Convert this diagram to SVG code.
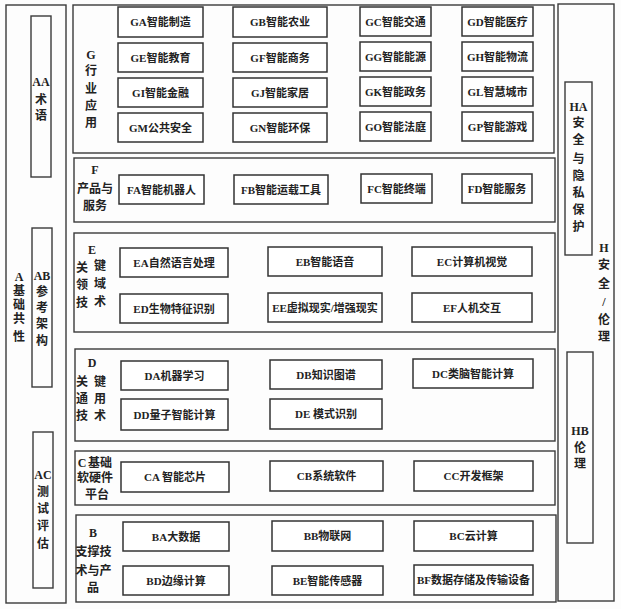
<svg xmlns="http://www.w3.org/2000/svg" width="621" height="609" viewBox="0 0 621 609">
<style>
.bg{fill:#fdfdfd}
.col{fill:none;stroke:#3a3a3a;stroke-width:1.4}
.sec{fill:none;stroke:#3a3a3a;stroke-width:1.4}
.box{fill:#fff;stroke:#333;stroke-width:1.5}
.t{font-family:"Liberation Serif","Noto Sans CJK SC",serif;font-size:11px;font-weight:bold;fill:#222;text-anchor:middle;dominant-baseline:central}
.v{font-family:"Liberation Serif","Noto Sans CJK SC",serif;font-size:12px;font-weight:bold;fill:#222;text-anchor:middle;dominant-baseline:central}
</style>
<rect class="bg" x="0" y="0" width="621" height="609"/>

<!-- Left column A -->
<g id="A">
<rect class="col" x="6" y="5" width="60" height="598"/>
<text class="v"><tspan x="19" y="277">A</tspan><tspan x="19" y="291">基</tspan><tspan x="19" y="305">础</tspan><tspan x="19" y="319">共</tspan><tspan x="19" y="337">性</tspan></text>
</g>
<g id="AA">
<rect class="col" x="31" y="16" width="20" height="161"/>
<text class="v"><tspan x="41" y="82">AA</tspan><tspan x="41" y="100">术</tspan><tspan x="41" y="116">语</tspan></text>
</g>
<g id="AB">
<rect class="col" x="32" y="228" width="20" height="159"/>
<text class="v"><tspan x="42" y="276">AB</tspan><tspan x="42" y="292">参</tspan><tspan x="42" y="308">考</tspan><tspan x="42" y="324">架</tspan><tspan x="42" y="341">构</tspan></text>
</g>
<g id="AC">
<rect class="col" x="33" y="432" width="20" height="156"/>
<text class="v"><tspan x="43" y="475">AC</tspan><tspan x="43" y="492">测</tspan><tspan x="43" y="509">试</tspan><tspan x="43" y="526">评</tspan><tspan x="43" y="544">估</tspan></text>
</g>

<!-- Right column H -->
<g id="H">
<rect class="col" x="558" y="4" width="56" height="597"/>
<text class="v"><tspan x="604" y="248">H</tspan><tspan x="604" y="265">安</tspan><tspan x="604" y="284">全</tspan><tspan x="604" y="302">/</tspan><tspan x="604" y="320">伦</tspan><tspan x="604" y="337">理</tspan></text>
</g>
<g id="HA">
<rect class="col" x="565" y="82" width="27" height="173"/>
<text class="v"><tspan x="578.5" y="107">HA</tspan><tspan x="578.5" y="123">安</tspan><tspan x="578.5" y="140">全</tspan><tspan x="578.5" y="159">与</tspan><tspan x="578.5" y="176">隐</tspan><tspan x="578.5" y="193">私</tspan><tspan x="578.5" y="210">保</tspan><tspan x="578.5" y="227">护</tspan></text>
</g>
<g id="HB">
<rect class="col" x="567" y="352" width="26" height="191"/>
<text class="v"><tspan x="580" y="431">HB</tspan><tspan x="580" y="448">伦</tspan><tspan x="580" y="464">理</tspan></text>
</g>

<!-- G section -->
<g id="G">
<rect class="sec" x="73" y="5" width="481" height="148"/>
<text class="v"><tspan x="91" y="55">G</tspan><tspan x="91" y="71">行</tspan><tspan x="91" y="89">业</tspan><tspan x="91" y="106">应</tspan><tspan x="91" y="123">用</tspan></text>
</g>
<g id="GA"><rect class="box" x="118" y="7" width="85" height="30"/><text class="t" x="160.5" y="22">GA智能制造</text></g>
<g id="GB"><rect class="box" x="233" y="7" width="94" height="30"/><text class="t" x="280" y="22">GB智能农业</text></g>
<g id="GC"><rect class="box" x="360" y="7" width="71" height="29"/><text class="t" x="395.5" y="21.5">GC智能交通</text></g>
<g id="GD"><rect class="box" x="462" y="7" width="71" height="29"/><text class="t" x="497.5" y="21.5">GD智能医疗</text></g>
<g id="GE"><rect class="box" x="118" y="43" width="85" height="29"/><text class="t" x="160.5" y="57.5">GE智能教育</text></g>
<g id="GF"><rect class="box" x="233" y="43" width="94" height="29"/><text class="t" x="280" y="57.5">GF智能商务</text></g>
<g id="GG"><rect class="box" x="360" y="42" width="71" height="29"/><text class="t" x="395.5" y="56.5">GG智能能源</text></g>
<g id="GH"><rect class="box" x="462" y="42" width="71" height="29"/><text class="t" x="497.5" y="56.5">GH智能物流</text></g>
<g id="GI"><rect class="box" x="118" y="78" width="85" height="29"/><text class="t" x="160.5" y="92.5">GI智能金融</text></g>
<g id="GJ"><rect class="box" x="233" y="78" width="94" height="29"/><text class="t" x="280" y="92.5">GJ智能家居</text></g>
<g id="GK"><rect class="box" x="360" y="77" width="71" height="29"/><text class="t" x="395.5" y="91.5">GK智能政务</text></g>
<g id="GL"><rect class="box" x="462" y="77" width="71" height="29"/><text class="t" x="497.5" y="91.5">GL智慧城市</text></g>
<g id="GM"><rect class="box" x="118" y="113" width="85" height="29"/><text class="t" x="160.5" y="127.5">GM公共安全</text></g>
<g id="GN"><rect class="box" x="233" y="113" width="94" height="29"/><text class="t" x="280" y="127.5">GN智能环保</text></g>
<g id="GO"><rect class="box" x="360" y="112" width="71" height="29"/><text class="t" x="395.5" y="126.5">GO智能法庭</text></g>
<g id="GP"><rect class="box" x="462" y="112" width="71" height="29"/><text class="t" x="497.5" y="126.5">GP智能游戏</text></g>

<!-- F section -->
<g id="F">
<rect class="sec" x="74" y="158" width="481" height="64"/>
<text class="v" x="95" y="170">F</text>
<text class="v" x="95" y="189">产品与</text>
<text class="v" x="95" y="206">服务</text>
</g>
<g id="FA"><rect class="box" x="119" y="175" width="85" height="29"/><text class="t" x="161.5" y="189.5">FA智能机器人</text></g>
<g id="FB"><rect class="box" x="234" y="175" width="94" height="29"/><text class="t" x="281" y="189.5">FB智能运载工具</text></g>
<g id="FC"><rect class="box" x="361" y="174" width="71" height="29"/><text class="t" x="396.5" y="188.5">FC智能终端</text></g>
<g id="FD"><rect class="box" x="462" y="174" width="70" height="29"/><text class="t" x="497" y="188.5">FD智能服务</text></g>

<!-- E section -->
<g id="E">
<rect class="sec" x="74" y="233" width="481" height="99"/>
<text class="v" x="92" y="250">E</text>
<text class="v"><tspan x="82" y="268">关</tspan><tspan x="100" y="266">键</tspan></text>
<text class="v"><tspan x="82" y="285">领</tspan><tspan x="100" y="284">域</tspan></text>
<text class="v"><tspan x="82" y="303">技</tspan><tspan x="100" y="302">术</tspan></text>
</g>
<g id="EA"><rect class="box" x="120" y="248" width="108" height="29"/><text class="t" x="174" y="262.5">EA自然语言处理</text></g>
<g id="EB"><rect class="box" x="268" y="247" width="114" height="29"/><text class="t" x="325" y="261.5">EB智能语音</text></g>
<g id="EC"><rect class="box" x="412" y="247" width="120" height="29"/><text class="t" x="472" y="261.5">EC计算机视觉</text></g>
<g id="ED"><rect class="box" x="120" y="294" width="108" height="29"/><text class="t" x="174" y="308.5">ED生物特征识别</text></g>
<g id="EE"><rect class="box" x="268" y="293" width="114" height="29"/><text class="t" x="325" y="307.5">EE虚拟现实/增强现实</text></g>
<g id="EF"><rect class="box" x="412" y="293" width="120" height="29"/><text class="t" x="472" y="307.5">EF人机交互</text></g>

<!-- D section -->
<g id="D">
<rect class="sec" x="75" y="349" width="480" height="92"/>
<text class="v" x="92" y="363">D</text>
<text class="v"><tspan x="82" y="382">关</tspan><tspan x="100" y="382">键</tspan></text>
<text class="v"><tspan x="82" y="399">通</tspan><tspan x="100" y="399">用</tspan></text>
<text class="v"><tspan x="82" y="416">技</tspan><tspan x="100" y="416">术</tspan></text>
</g>
<g id="DA"><rect class="box" x="121" y="361" width="107" height="29"/><text class="t" x="174.5" y="375.5">DA机器学习</text></g>
<g id="DB"><rect class="box" x="270" y="360" width="112" height="29"/><text class="t" x="326" y="374.5">DB知识图谱</text></g>
<g id="DC"><rect class="box" x="413" y="359" width="120" height="29"/><text class="t" x="473" y="373.5">DC类脑智能计算</text></g>
<g id="DD"><rect class="box" x="121" y="399" width="107" height="31"/><text class="t" x="174.5" y="414.5">DD量子智能计算</text></g>
<g id="DE"><rect class="box" x="270" y="399" width="112" height="30"/><text class="t" x="326" y="414">DE 模式识别</text></g>

<!-- C section -->
<g id="C">
<rect class="sec" x="75" y="451" width="480" height="54"/>
<text class="v"><tspan x="82" y="463">C</tspan><tspan x="100" y="463">基础</tspan></text>
<text class="v" x="95" y="478">软硬件</text>
<text class="v" x="97" y="495">平台</text>
</g>
<g id="CA"><rect class="box" x="121" y="462" width="108" height="30"/><text class="t" x="175" y="477">CA 智能芯片</text></g>
<g id="CB"><rect class="box" x="270" y="461" width="113" height="30"/><text class="t" x="326.5" y="476">CB系统软件</text></g>
<g id="CC"><rect class="box" x="414" y="461" width="119" height="30"/><text class="t" x="473.5" y="476">CC开发框架</text></g>

<!-- B section -->
<g id="B">
<rect class="sec" x="76" y="515" width="480" height="87"/>
<text class="v" x="93" y="533">B</text>
<text class="v" x="93.5" y="552">支撑技</text>
<text class="v" x="93.5" y="571">术与产</text>
<text class="v" x="93" y="588">品</text>
</g>
<g id="BA"><rect class="box" x="123" y="522" width="106" height="29"/><text class="t" x="176" y="536.5">BA大数据</text></g>
<g id="BB"><rect class="box" x="272" y="521" width="111" height="30"/><text class="t" x="327.5" y="536">BB物联网</text></g>
<g id="BC"><rect class="box" x="414" y="521" width="119" height="30"/><text class="t" x="473.5" y="536">BC云计算</text></g>
<g id="BD"><rect class="box" x="123" y="566" width="106" height="29"/><text class="t" x="176" y="580.5">BD边缘计算</text></g>
<g id="BE"><rect class="box" x="272" y="566" width="111" height="29"/><text class="t" x="327.5" y="580.5">BE智能传感器</text></g>
<g id="BF"><rect class="box" x="414" y="565" width="119" height="30"/><text class="t" x="473.5" y="580">BF数据存储及传输设备</text></g>
</svg>
